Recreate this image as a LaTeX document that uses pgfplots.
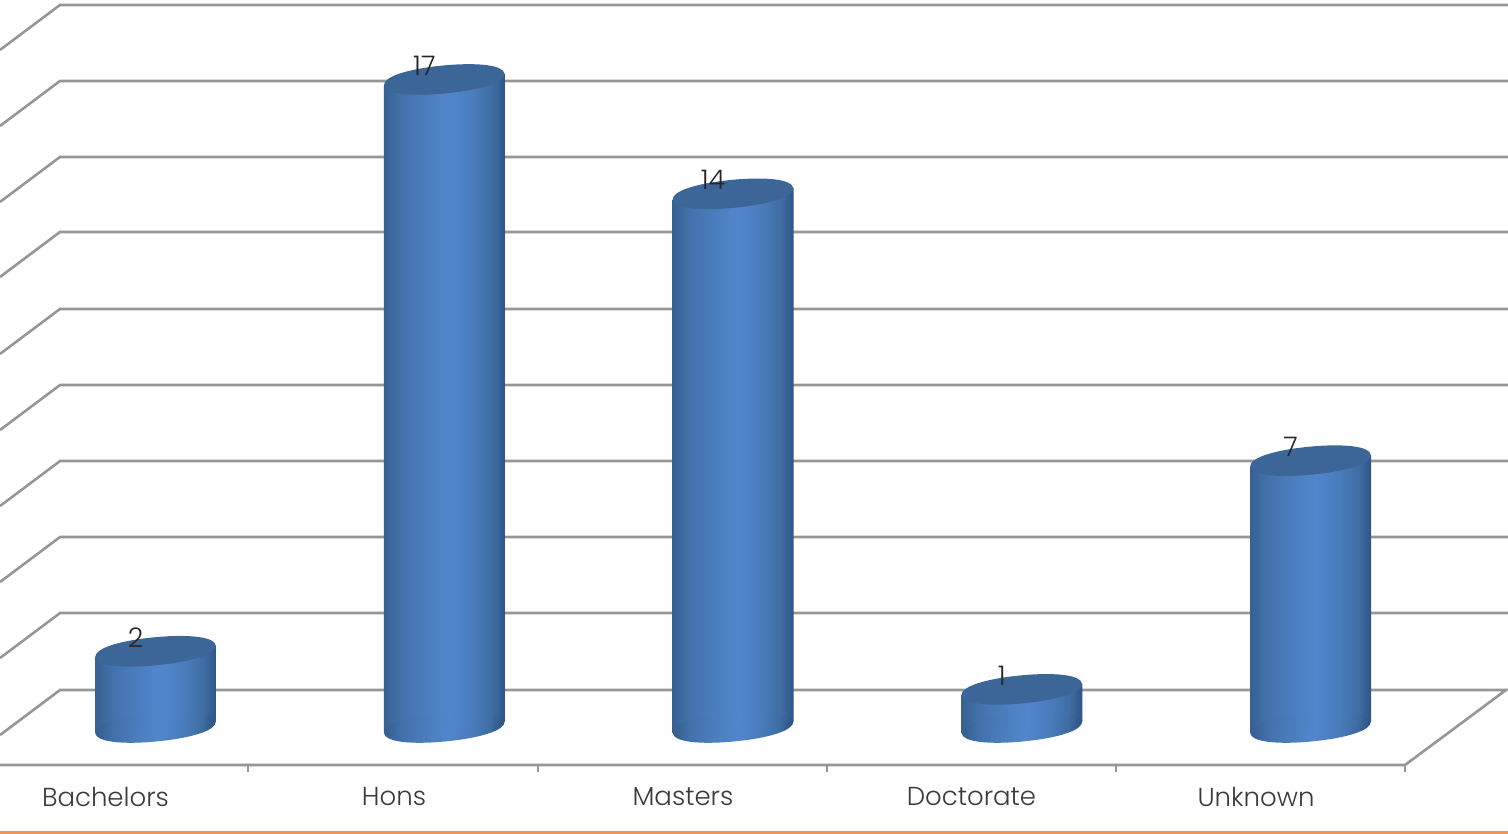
\documentclass[border=0pt]{standalone}
\usepackage{pgfplots}
\usepackage{fontspec}
\setmainfont{Poppins Light}
\pgfplotsset{compat=1.18}

\definecolor{gridgray}{HTML}{969696}
\definecolor{labelgray}{HTML}{3A3A3A}
\definecolor{capblue}{HTML}{3C6598}
\definecolor{rule}{HTML}{EE9457}
\definecolor{sideA}{HTML}{386092}
\definecolor{sideB}{HTML}{4272AC}
\definecolor{sideC}{HTML}{4A7CBC}
\definecolor{sideD}{HTML}{5286CB}
\definecolor{sideE}{HTML}{3F6CA2}
\definecolor{sideF}{HTML}{2E5585}

% Cylinder side: dark edges with a lighter band near the centre
\pgfdeclarehorizontalshading{cylside}{100bp}{
  color(0bp)=(sideA);
  color(25bp)=(sideA);
  color(32bp)=(sideB);
  color(41bp)=(sideC);
  color(52bp)=(sideD);
  color(62bp)=(sideC);
  color(70bp)=(sideE);
  color(75bp)=(sideF);
  color(100bp)=(sideF)}

% Outline of a cylinder end: a tilted, slightly full ellipse
\newcommand{\cylinderend}{%
  \pgftransformrotate{5.5}%
  \pgfpathmoveto{\pgfqpoint{-60.5pt}{0pt}}%
  \pgfpathcurveto{\pgfqpoint{-60.5pt}{8.4pt}}{\pgfqpoint{-36pt}{14pt}}{\pgfqpoint{0pt}{14pt}}%
  \pgfpathcurveto{\pgfqpoint{36pt}{14pt}}{\pgfqpoint{60.5pt}{8.4pt}}{\pgfqpoint{60.5pt}{0pt}}%
  \pgfpathcurveto{\pgfqpoint{60.5pt}{-8.4pt}}{\pgfqpoint{36pt}{-14pt}}{\pgfqpoint{0pt}{-14pt}}%
  \pgfpathcurveto{\pgfqpoint{-36pt}{-14pt}}{\pgfqpoint{-60.5pt}{-8.4pt}}{\pgfqpoint{-60.5pt}{0pt}}%
  \pgfpathclose}
\pgfdeclareplotmark{cylfoot}{%
  \cylinderend
  \pgfshadepath{cylside}{-5.5}%
  \pgfusepath{discard}}
\pgfdeclareplotmark{cylcap}{%
  \cylinderend
  \pgfsetfillcolor{capblue}%
  \pgfusepath{fill}}

\pgfplotstableread{
x y
0 2
1 17
2 14
3 1
4 7
}\degrees

\pgfplotstableread{
x y
0 0
1 0
2 0
3 0
4 0
}\footline

\pgfplotsset{
  plate/.style={
    at={(0pt,0pt)}, anchor=south west,
    scale only axis, width=1508pt, height=834pt,
    hide axis, clip=true},
}

\begin{document}
\begin{tikzpicture}
\useasboundingbox (0pt,0pt) rectangle (1508pt,834pt);

% Back wall, side wall and floor
\begin{axis}[plate, xmin=0, xmax=1508, ymin=0, ymax=834, y dir=reverse]
  \addplot[gridgray, line width=2.6pt] coordinates {(0,50) (60,5) (1508,5)};
  \addplot[gridgray, line width=2.6pt] coordinates {(0,126) (60,81) (1508,81)};
  \addplot[gridgray, line width=2.6pt] coordinates {(0,202) (60,157) (1508,157)};
  \addplot[gridgray, line width=2.6pt] coordinates {(0,277) (60,232) (1508,232)};
  \addplot[gridgray, line width=2.6pt] coordinates {(0,354) (60,309) (1508,309)};
  \addplot[gridgray, line width=2.6pt] coordinates {(0,430) (60,385) (1508,385)};
  \addplot[gridgray, line width=2.6pt] coordinates {(0,506) (60,461) (1508,461)};
  \addplot[gridgray, line width=2.6pt] coordinates {(0,582) (60,537) (1508,537)};
  \addplot[gridgray, line width=2.6pt] coordinates {(0,658) (60,613) (1508,613)};
  \addplot[gridgray, line width=2.6pt] coordinates {(0,735) (60,690) (1506,690) (1405,765) (0,765)};
  % Category ticks on the front edge of the floor
  \addplot[gridgray, line width=2pt] coordinates {(248,765) (248,772)};
  \addplot[gridgray, line width=2pt] coordinates {(538,765) (538,772)};
  \addplot[gridgray, line width=2pt] coordinates {(827,765) (827,772)};
  \addplot[gridgray, line width=2pt] coordinates {(1116,765) (1116,772)};
  \addplot[gridgray, line width=2pt] coordinates {(1405,765) (1405,772)};
  % Rule along the bottom of the slide
  \addplot[rule, line width=3pt] coordinates {(0,832.5) (1508,832.5)};
  % Category names
  \begin{scope}[every node/.style={font=\fontsize{26}{30}\selectfont, text=labelgray, anchor=center}]
    \node at (axis cs:105.5,797) {Bachelors};
    \node at (axis cs:394,797) {Hons};
    \node at (axis cs:683,797) {Masters};
    \node at (axis cs:971.5,797) {Doctorate};
    \node at (axis cs:1256,797) {Unknown};
  \end{scope}
\end{axis}

% Cylinders
\begin{axis}[plate, xmin=-0.5385, xmax=4.684, ymin=-2.794, ymax=19.085,
    /pgf/number format/assume math mode=true]
  \addplot[only marks, mark=cylfoot] table {\footline};

  \addplot[draw=none, shade, shading=cylside] coordinates
    {(-0.2095,-0.15) (0.2095,0.15) (0.2095,2.15) (-0.2095,1.85)} -- cycle;
  \addplot[draw=none, shade, shading=cylside] coordinates
    {(0.7905,-0.15) (1.2095,0.15) (1.2095,17.15) (0.7905,16.85)} -- cycle;
  \addplot[draw=none, shade, shading=cylside] coordinates
    {(1.7905,-0.15) (2.2095,0.15) (2.2095,14.15) (1.7905,13.85)} -- cycle;
  \addplot[draw=none, shade, shading=cylside] coordinates
    {(2.7905,-0.15) (3.2095,0.15) (3.2095,1.15) (2.7905,0.85)} -- cycle;
  \addplot[draw=none, shade, shading=cylside] coordinates
    {(3.7905,-0.15) (4.2095,0.15) (4.2095,7.15) (3.7905,6.85)} -- cycle;

  \addplot[only marks, mark=cylcap,
    nodes near coords,
    nodes near coords style={anchor=center, xshift=-20pt, yshift=14pt,
      text=black!85, font=\fontsize{27}{32}\selectfont}]
    table {\degrees};
\end{axis}
\end{tikzpicture}
\end{document}
